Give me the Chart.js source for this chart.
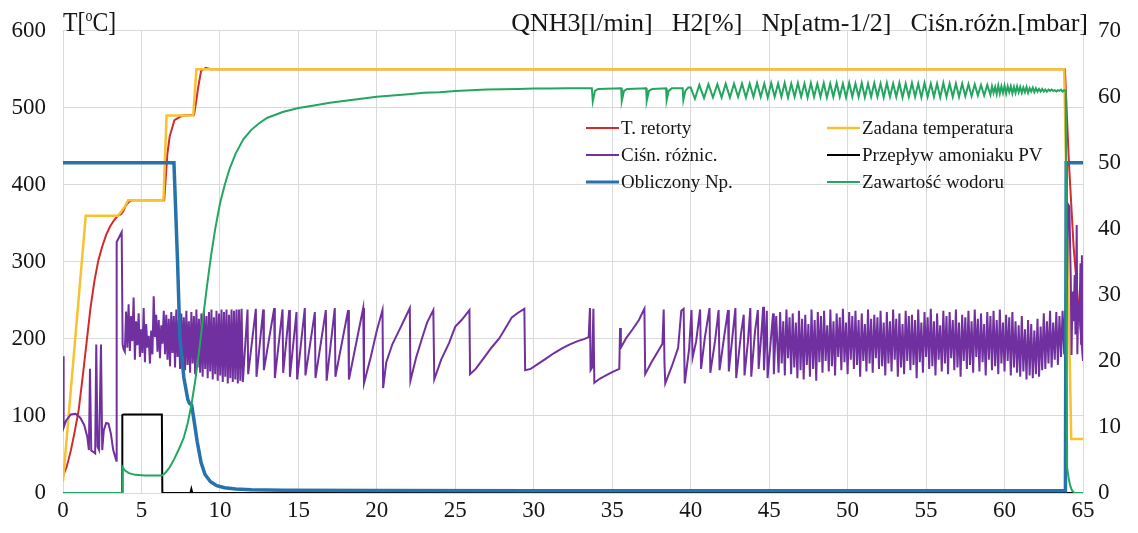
<!DOCTYPE html>
<html>
<head>
<meta charset="utf-8">
<script src="https://cdn.jsdelivr.net/npm/chart.js@4.4.1/dist/chart.umd.min.js"></script>
<style>
  html, body { margin: 0; padding: 0; background: #ffffff; }
  #wrap { width: 1138px; height: 533px; }
</style>
</head>
<body>
<div id="wrap"><canvas id="c" width="1138" height="533"></canvas></div>
<script>
// ---- axis ticks ----
const timeTicks = [0, 5, 10, 15, 20, 25, 30, 35, 40, 45, 50, 55, 60, 65];
const tempTicks = [0, 100, 200, 300, 400, 500, 600];
const rightTicks = [0, 10, 20, 30, 40, 50, 60, 70];

// ---- T. retorty [°C] ----
const retortX = [0, 0.25, 0.5, 0.75, 1.0, 1.25, 1.5, 1.75, 2.0, 2.25, 2.5, 2.75, 3.0, 3.25, 3.5, 3.7, 3.85, 4.0, 4.2, 4.4,
                 6.45, 6.55, 6.65, 6.8, 7.1, 7.6, 8.35, 8.5, 8.6, 8.8, 9.1, 9.4, 63.85, 64.1, 64.4, 64.7, 65];
const retortY = [22, 35, 55, 80, 108, 150, 195, 240, 275, 302, 320, 335, 346, 354, 360, 362, 366, 373, 378, 380,
                 380, 410, 440, 463, 484, 490, 491, 510, 525, 548, 552, 550, 550, 430, 320, 245, 172];

// ---- Zadana temperatura [°C] ----
const setpointX = [0, 1.45, 3.5, 3.7, 3.8, 3.95, 4.15, 6.4, 6.6, 8.3, 8.5, 63.8, 64.25, 65];
const setpointY = [15, 360, 360, 365, 368, 372, 380, 380, 490, 490, 550, 550, 70, 70];

// ---- Ciśn. różnic. [mbar] ----
const pressStartX = [0, 0.04, 0.2, 0.5, 0.8, 1.1, 1.35, 1.55, 1.65, 1.72, 1.8, 1.95, 2.05, 2.12, 2.2, 2.3, 2.42, 2.5,
                     2.6, 2.75, 2.9, 3.05, 3.2, 3.4, 3.42, 3.74, 3.8];
const pressStartY = [20.7, 9.9, 11.0, 11.9, 12.0, 11.4, 10.3, 8.5, 6.5, 18.8, 6.4, 6.2, 6.0, 22.5, 7.0, 6.5, 22.5, 6.5,
                     9.5, 10.6, 10.5, 9.0, 6.5, 4.9, 38.0, 39.5, 22.5];
// logged every 0.08 h from 3.86 h
const pressNoiseAStart = 3.86, pressNoiseAStep = 0.08;
const pressNoiseA = [
  21.8, 21.4, 27.5, 22.0, 28.6, 21.5, 26.8, 23.0, 29.6, 20.2,
  26.0, 22.4, 27.2, 20.6, 24.8, 21.2, 28.0, 19.8, 25.6, 22.0,
  23.8, 19.6, 24.6, 21.0, 29.8, 23.6, 27.0, 21.4, 26.2, 20.4,
  25.4, 22.6, 27.6, 21.0, 27.0, 20.2, 26.4, 19.2, 27.4, 21.2,
  26.8, 19.0, 27.8, 20.6, 26.2, 18.8, 27.2, 20.0, 26.6, 18.6,
  27.6, 19.4, 26.0, 18.2, 27.4, 19.6, 26.8, 18.0, 27.8, 19.0,
  26.4, 18.2, 27.2, 17.6, 27.6, 18.8, 26.8, 17.4, 27.4, 18.4,
  27.8, 17.2, 26.6, 18.0, 27.6, 17.0, 27.2, 17.8, 27.8, 16.8,
  27.4, 17.6, 27.8, 16.6, 27.0, 17.4, 27.8, 16.8, 27.6, 17.2,
  27.8, 16.6, 27.8, 17.0, 27.9, 16.8
];
const pressSawX = [11.76, 11.80, 12.29, 12.33, 12.76, 12.80, 13.46, 13.50, 13.99, 14.03, 14.42, 14.46, 14.88, 14.92,
  15.41, 15.45, 16.05, 16.09, 16.75, 16.80, 17.32, 17.36, 18.17, 18.22, 19.13, 19.18, 19.6, 20.0, 20.36, 20.40,
  20.6, 21.0, 21.5, 21.8, 22.10, 22.14, 22.5, 22.9, 23.2, 23.60, 23.66, 24.1, 24.6, 25.0, 25.4, 25.90, 25.94,
  26.3, 26.8, 27.3, 27.8, 28.2, 28.6, 29.0, 29.40, 29.45, 29.8, 30.3, 30.8, 31.3, 31.8, 32.3, 32.8, 33.2, 33.50,
  33.58, 33.62, 33.72, 33.80, 33.86, 34.2, 34.6, 35.0, 35.45, 35.50, 35.55, 35.9, 36.3, 36.7, 37.05, 37.10,
  37.5, 37.9, 38.20, 38.28, 38.33, 38.38, 38.8, 39.2, 39.40, 39.55, 39.62, 39.90, 40.05, 40.12, 40.35, 40.60,
  40.66, 40.90, 41.20, 41.25, 41.55, 41.78, 41.84, 42.15, 42.38, 42.43, 42.65, 42.85, 42.90, 43.20, 43.38,
  43.43, 43.65, 43.80, 43.86, 44.10, 44.28, 44.33, 44.50, 44.62, 44.67, 44.85, 44.90, 45.10, 45.25, 45.30, 45.45];
const pressSawY = [27.8, 18.0, 27.9, 17.6, 27.8, 18.6, 28.0, 17.4, 27.8, 18.2, 27.7, 17.6, 27.4, 17.2,
  28.0, 17.8, 27.4, 17.4, 27.7, 17.0, 28.0, 17.6, 27.7, 17.2, 28.0, 16.6, 20.5, 24.6, 27.7, 15.9,
  19.8, 22.6, 25.0, 26.5, 28.0, 17.0, 20.5, 23.6, 25.8, 27.7, 17.2, 20.2, 22.7, 25.2, 26.2, 27.7, 18.0,
  18.8, 20.4, 22.0, 23.4, 25.0, 26.6, 27.3, 27.9, 18.6, 18.8, 19.6, 20.4, 21.2, 21.9, 22.5, 23.0, 23.3, 23.6,
  28.0, 18.6, 19.0, 27.9, 16.7, 17.3, 17.8, 18.3, 18.8, 25.0, 22.0, 23.5, 24.8, 26.2, 27.9, 18.0,
  19.8, 21.4, 22.6, 27.8, 19.6, 16.6, 19.2, 22.0, 27.6, 27.9, 16.6, 21.8, 27.7, 20.5, 23.0, 27.8,
  18.8, 23.5, 28.0, 18.2, 23.0, 27.7, 18.6, 24.0, 27.7, 18.4, 23.5, 28.0, 17.4, 24.0, 27.0,
  17.8, 23.0, 28.0, 17.6, 24.5, 27.7, 18.8, 24.0, 28.2, 18.6, 27.6, 17.4, 23.0, 27.2, 18.0, 26.8];
// logged every 0.1 h from 45.6 h
const pressNoiseBStart = 45.6, pressNoiseBStep = 0.1;
const pressNoiseB = [
  18.2, 27.4, 19.6, 26.0, 17.8, 27.8, 20.4, 26.6, 18.0, 27.2,
  19.0, 25.8, 17.4, 27.6, 18.6, 26.4, 17.2, 27.0, 19.4, 25.6,
  17.6, 27.8, 18.8, 26.2, 17.0, 27.4, 19.8, 26.8, 18.2, 27.6,
  20.0, 25.4, 18.4, 27.8, 19.2, 26.0, 17.8, 27.2, 20.6, 26.6,
  18.6, 27.9, 19.8, 25.8, 18.0, 27.4, 20.2, 26.8, 18.8, 27.6,
  19.4, 26.2, 17.6, 27.2, 20.0, 25.6, 18.4, 27.8, 19.6, 26.4,
  18.2, 27.0, 20.4, 26.6, 18.8, 27.6, 19.2, 25.8, 17.8, 27.4,
  19.6, 26.0, 18.4, 27.8, 20.2, 26.4, 17.6, 27.2, 19.0, 25.6,
  18.0, 27.6, 20.0, 26.8, 18.6, 27.0, 19.4, 26.2, 17.4, 27.8,
  19.8, 25.8, 18.2, 27.4, 20.6, 26.6, 18.8, 27.9, 19.2, 26.0,
  17.8, 27.2, 20.2, 25.4, 18.4, 27.6, 19.6, 26.8, 18.0, 27.4,
  20.4, 26.2, 18.6, 27.8, 19.0, 25.8, 17.6, 27.0, 20.0, 26.6,
  18.8, 27.6, 19.4, 26.0, 18.2, 27.8, 20.6, 26.4, 18.4, 27.2,
  19.8, 25.6, 17.8, 27.4, 20.2, 26.8, 18.6, 27.6, 19.2, 26.2,
  18.0, 27.8, 19.6, 25.8, 18.4, 27.0, 20.0, 26.6, 17.8, 27.4,
  19.0, 26.0, 18.2, 25.4, 17.6, 26.8, 18.4, 24.8, 17.2, 26.2,
  17.8, 25.6, 17.4, 24.6, 18.0, 26.4, 17.6, 25.2, 18.6, 27.2,
  18.8, 26.0, 19.6, 27.6, 19.0, 25.8, 20.2, 27.4, 19.4, 26.8,
  20.6, 27.6, 21.0
];
const pressEndX = [63.86, 63.9, 63.97, 64.05, 64.13, 64.22, 64.27, 64.33, 64.4, 64.47, 64.52, 64.6, 64.64, 64.7,
                   64.77, 64.84, 64.88, 64.93, 64.97, 65.0];
const pressEndY = [27.6, 22.0, 30.0, 43.7, 43.4, 32.5, 20.9, 30.5, 26.0, 33.0, 24.0, 40.6, 21.0, 29.0,
                   26.0, 34.8, 22.6, 36.0, 25.0, 20.0];

// ---- Przepływ amoniaku PV [l/min] ----
const flowX = [0, 3.76, 3.78, 3.85, 6.3, 6.33, 8.12, 8.18, 8.24, 65];
const flowY = [0, 0, 11.8, 11.9, 11.9, 0, 0, 0.6, 0, 0];

// ---- Obliczony Np. ----
const npX = [0, 7.07, 7.3, 7.45, 7.7, 7.95, 8.05, 8.2, 8.35, 8.55, 8.8, 9.05, 9.4, 9.8, 10.3, 11, 12, 14, 20, 30,
             63.88, 63.93, 65];
const npY = [50, 50, 35, 23.5, 17.5, 14.2, 13.6, 13.3, 11.0, 7.8, 4.6, 2.8, 1.7, 1.1, 0.8, 0.6, 0.5, 0.42, 0.38, 0.35,
             0.35, 50, 50];

// ---- Zawartość wodoru [%] ----
const h2X = [0, 3.76, 3.8, 3.95, 4.2, 4.6, 5.2, 6.3, 6.5, 6.8, 7.1, 7.4, 7.7, 7.95, 8.2, 8.45, 8.7, 8.95, 9.2, 9.45,
  9.7, 10.0, 10.3, 10.6, 11.0, 11.5, 12.0, 12.5, 13.0, 14.0, 15.0, 16.0, 17.0, 18.0, 19.0, 20.0, 21.0, 22.0,
  23.0, 24.0, 25.0, 26.0, 27.0, 28.0, 29.0, 30.0, 31.0, 32.0, 33.70, 33.76, 33.9, 34.1, 35.57, 35.61, 35.75,
  35.95, 37.16, 37.2, 37.34, 37.55, 38.43, 38.47, 38.6, 38.8, 39.49, 39.53, 39.66, 39.85, 40.0];
const h2Y = [0, 0, 3.9, 3.4, 3.0, 2.75, 2.65, 2.65, 3.0, 3.9, 5.2, 6.7, 8.4, 10.6, 13.6, 17.4, 22.0, 27.0, 31.8, 36.2,
  40.0, 43.8, 46.6, 49.0, 51.4, 53.6, 55.0, 56.0, 56.8, 57.7, 58.3, 58.7, 59.1, 59.4, 59.7, 60.0, 60.2, 60.4,
  60.6, 60.7, 60.9, 61.0, 61.1, 61.15, 61.2, 61.25, 61.25, 61.3, 61.3, 59.3, 60.9, 61.2, 61.3, 59.4, 60.9,
  61.2, 61.3, 59.4, 60.9, 61.2, 61.3, 59.5, 60.9, 61.3, 61.3, 59.5, 60.9, 61.4, 61.4];
const h2WaveX = [40.27, 40.55, 40.85, 41.13, 41.42, 41.7, 41.97, 42.23, 42.5, 42.76, 43.02, 43.27, 43.52, 43.76, 44.0,
  44.23, 44.46, 44.69, 44.91, 45.13, 45.35, 45.57, 45.78, 45.99, 46.2, 46.41, 46.62, 46.83, 47.04, 47.25, 47.45,
  47.66, 47.86, 48.07, 48.27, 48.48, 48.68, 48.89, 49.09, 49.3, 49.5, 49.7, 49.9, 50.1, 50.3, 50.5, 50.7, 50.9,
  51.1, 51.3, 51.5, 51.7, 51.9, 52.1, 52.3, 52.5, 52.7, 52.9, 53.1, 53.3, 53.5, 53.7, 53.9, 54.1, 54.3, 54.5,
  54.7, 54.9, 55.1, 55.3, 55.5, 55.7, 55.9, 56.1, 56.3, 56.5, 56.7, 56.9, 57.1, 57.3, 57.5, 57.7, 57.9, 58.1,
  58.3, 58.5, 58.7, 58.9, 59.1, 59.2, 59.3, 59.4, 59.5, 59.6, 59.7, 59.8, 59.9, 60.0, 60.1, 60.2, 60.3, 60.4,
  60.5, 60.6, 60.7, 60.8, 60.9, 61.0, 61.1, 61.2, 61.3, 61.4, 61.5, 61.6, 61.7, 61.8, 61.9, 62.0, 62.1, 62.2,
  62.3, 62.4, 62.5, 62.6, 62.7, 62.8, 62.9, 63.0, 63.1, 63.2, 63.3, 63.4, 63.5, 63.6, 63.7, 63.8, 63.9];
const h2WaveY = [59.7, 61.8, 59.8, 61.9, 59.9, 61.9, 59.9, 62.0, 59.9, 62.0, 60.0, 62.0, 59.9, 62.0, 60.0,
  62.1, 60.0, 62.0, 59.9, 62.1, 60.0, 62.0, 60.0, 62.1, 59.9, 62.0, 60.0, 62.1, 60.0, 62.0, 59.9,
  62.1, 60.0, 62.0, 60.0, 62.1, 59.9, 62.0, 60.0, 62.1, 60.0, 62.0, 59.9, 62.1, 60.0, 62.0, 60.0, 62.1,
  59.9, 62.0, 60.0, 62.1, 60.0, 62.0, 59.9, 62.1, 60.0, 62.0, 60.0, 62.1, 59.9, 62.0, 60.0, 62.1, 60.0, 62.0,
  59.9, 62.1, 60.0, 62.0, 60.0, 62.0, 59.9, 62.1, 60.0, 62.0, 60.0, 62.0, 60.0, 62.0, 60.1, 61.9, 60.1, 61.9,
  60.2, 61.8, 60.2, 61.8, 60.3, 61.6, 60.6, 61.5, 60.4, 61.7, 60.5, 61.6, 60.6, 61.7, 60.5, 61.6, 60.7, 61.6,
  60.5, 61.5, 60.6, 61.6, 60.7, 61.5, 60.6, 61.4, 60.7, 61.5, 60.6, 61.3, 60.8, 61.4, 60.7, 61.3, 60.8, 61.2,
  60.8, 61.2, 60.8, 61.1, 60.8, 61.1, 60.9, 61.1, 60.9, 61.0, 60.8, 61.0, 60.9, 61.1, 60.8, 61.0, 60.9];
const h2EndX = [63.99, 64.1, 64.2, 64.3, 64.45, 65];
const h2EndY = [3.8, 2.0, 1.0, 0.4, 0, 0];

// ---- helpers turning the arrays into {x, y} points ----
const pairs = (xs, ys) => xs.map((x, i) => ({ x: x, y: ys[i] }));
const logged = (start, step, ys) => ys.map((y, i) => ({ x: Math.round((start + i * step) * 1000) / 1000, y: y }));

const pressurePoints = [].concat(
  pairs(pressStartX, pressStartY),
  logged(pressNoiseAStart, pressNoiseAStep, pressNoiseA),
  pairs(pressSawX, pressSawY),
  logged(pressNoiseBStart, pressNoiseBStep, pressNoiseB),
  pairs(pressEndX, pressEndY)
);
const h2Points = [].concat(pairs(h2X, h2Y), pairs(h2WaveX, h2WaveY), pairs(h2EndX, h2EndY));

const FONT = "'Liberation Serif', 'Times New Roman', serif";
const INK = '#151515';

const legendOrder = ['T. retorty', 'Zadana temperatura', 'Ciśn. różnic.', 'Przepływ amoniaku PV', 'Obliczony Np.', 'Zawartość wodoru'];
const rightTitleParts = ['QNH3[l/min]', 'H2[%]', 'Np[atm-1/2]', 'Ciśn.różn.[mbar]'];

// titles above the plot and the in-plot legend
const overlay = {
  id: 'overlay',
  afterDraw(chart) {
    const ctx = chart.ctx;
    ctx.save();
    ctx.fillStyle = INK;
    ctx.textBaseline = 'alphabetic';
    ctx.textAlign = 'left';
    const base = 31;
    // left axis title: T[°C] with raised "o", slightly condensed
    ctx.save();
    ctx.translate(63, base);
    ctx.scale(0.88, 1);
    let x = 0;
    ctx.font = '27px ' + FONT;
    ctx.fillText('T[', x, 0); x += ctx.measureText('T[').width;
    ctx.font = '16px ' + FONT;
    ctx.fillText('o', x, -10); x += ctx.measureText('o').width;
    ctx.font = '27px ' + FONT;
    ctx.fillText('C]', x, 0);
    ctx.restore();
    // right axis title
    ctx.font = '26px ' + FONT;
    const gap = 19;
    let right = 1088;
    for (let i = rightTitleParts.length - 1; i >= 0; i--) {
      const w = ctx.measureText(rightTitleParts[i]).width;
      ctx.fillText(rightTitleParts[i], right - w, base);
      right -= w + gap;
    }
    // legend
    ctx.font = '19px ' + FONT;
    ctx.textBaseline = 'middle';
    const colX = [586, 827];
    const rowY = [128, 155, 182];
    legendOrder.forEach((label, i) => {
      const ds = chart.data.datasets.find(d => d.label === label);
      const cx = colX[i % 2], cy = rowY[Math.floor(i / 2)];
      ctx.strokeStyle = ds.borderColor;
      ctx.lineWidth = Math.min(ds.borderWidth, 3);
      ctx.beginPath();
      ctx.moveTo(cx, cy);
      ctx.lineTo(cx + 33, cy);
      ctx.stroke();
      ctx.fillStyle = INK;
      ctx.fillText(label, cx + 35, cy + 1);
    });
    ctx.restore();
  }
};

const line = (label, data, color, width, axis, order) => ({
  label, data, borderColor: color, backgroundColor: color, borderWidth: width,
  yAxisID: axis, order, pointRadius: 0, tension: 0, fill: false
});

new Chart(document.getElementById('c'), {
  type: 'line',
  data: {
    datasets: [
      line('Zawartość wodoru', h2Points, '#22A660', 2, 'y1', 0),
      line('Obliczony Np.', pairs(npX, npY), '#2672AC', 3.5, 'y1', 1),
      line('Przepływ amoniaku PV', pairs(flowX, flowY), '#000000', 2, 'y1', 2),
      line('Ciśn. różnic.', pressurePoints, '#7030A0', 2, 'y1', 3),
      line('Zadana temperatura', pairs(setpointX, setpointY), '#F7C130', 2.5, 'y', 4),
      line('T. retorty', pairs(retortX, retortY), '#D42A2A', 2, 'y', 5)
    ]
  },
  options: {
    responsive: false,
    animation: false,
    events: [],
    layout: { padding: { top: 27, left: 0, right: 0, bottom: 0 } },
    plugins: { legend: { display: false }, tooltip: { enabled: false }, title: { display: false } },
    scales: {
      x: {
        type: 'linear', min: 0, max: 65,
        afterBuildTicks: s => { s.ticks = timeTicks.map(v => ({ value: v })); },
        ticks: { font: { family: FONT, size: 23 }, color: INK, padding: 4, maxRotation: 0, autoSkip: false },
        grid: { color: '#D9D9D9', lineWidth: 1, drawTicks: false },
        border: { display: false },
        afterFit: s => { s.height = 40; }
      },
      y: {
        position: 'left', min: 0, max: 600,
        afterBuildTicks: s => { s.ticks = tempTicks.map(v => ({ value: v })); },
        ticks: { font: { family: FONT, size: 23 }, color: INK, padding: 17 },
        grid: { color: '#D9D9D9', lineWidth: 1, drawTicks: false },
        border: { display: false },
        afterFit: s => { s.width = 63; }
      },
      y1: {
        position: 'right', min: 0, max: 70,
        afterBuildTicks: s => { s.ticks = rightTicks.map(v => ({ value: v })); },
        ticks: { font: { family: FONT, size: 23 }, color: INK, padding: 15 },
        grid: { display: false, drawTicks: false },
        border: { display: false },
        afterFit: s => { s.width = 55; }
      }
    }
  },
  plugins: [overlay]
});
</script>
</body>
</html>
